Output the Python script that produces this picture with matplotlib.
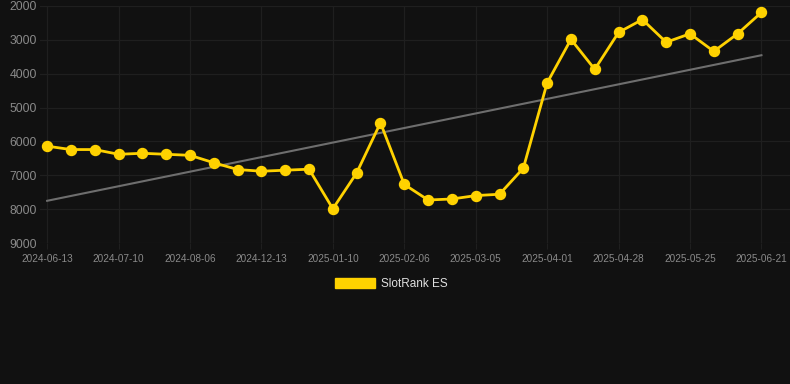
import matplotlib.pyplot as plt
import numpy as np
from matplotlib.patches import Patch

plt.rcParams["font.family"] = ["Liberation Sans", "DejaVu Sans"]

# SlotRank ES position, one point per 9-day step (labels shown every third point)
tick_labels = [
    "2024-06-13", "2024-07-10", "2024-08-06", "2024-12-13", "2025-01-10", "2025-02-06",
    "2025-03-05", "2025-04-01", "2025-04-28", "2025-05-25", "2025-06-21",
]
rank_es = [
    6140, 6240, 6240, 6380, 6350, 6380, 6410, 6630, 6830, 6880, 6850,
    6820, 7990, 6930, 5450, 7270, 7730, 7700, 7600, 7560, 6790, 4270,
    2985, 3870, 2780, 2400, 3070, 2820, 3340, 2820, 2190,
]
series_name = "SlotRank ES"

BG = "#111111"
GOLD = "#FFD200"
GRID = "#1f1f1f"
TXT = "#8a8a8a"

x = np.arange(len(rank_es))
y = np.array(rank_es, dtype=float)
slope, intercept = np.polyfit(x, y, 1)

fig = plt.figure(figsize=(7.9, 3.84), dpi=100, facecolor=BG)
ax = fig.add_axes([40 / 790, 1 - 243 / 384, 750 / 790, 237 / 384])
ax.set_facecolor(BG)

ax.plot(x, slope * x + intercept, color="#6e6e6e", linewidth=1.5, zorder=2)
ax.plot(x, y, color=GOLD, linewidth=2.0, marker="o", markersize=7.2, zorder=3)

ax.set_ylim(9000, 2000)
ax.set_yticks(range(2000, 9001, 1000))
ax.set_xlim(-0.3, 31.2)
ax.set_xticks(x[::3])
ax.set_xticklabels(tick_labels)

ax.grid(True, color=GRID, linewidth=0.9)
ax.set_axisbelow(True)
for s in ax.spines.values():
    s.set_visible(False)
ax.tick_params(axis="y", length=0, pad=2, labelsize=8.8, labelcolor=TXT)
ax.tick_params(axis="x", length=4, color=GRID, pad=4, labelsize=7.2, labelcolor=TXT)

fig.legend(
    handles=[Patch(facecolor=GOLD, edgecolor=GOLD)],
    labels=[series_name],
    loc="center",
    bbox_to_anchor=(0.495, 1 - 284 / 384),
    frameon=False,
    fontsize=8.5,
    labelcolor="#e0e0e0",
    handlelength=3.4,
    handleheight=1.0,
    handletextpad=0.5,
)

fig.savefig("out.png", dpi=100, facecolor=BG)
